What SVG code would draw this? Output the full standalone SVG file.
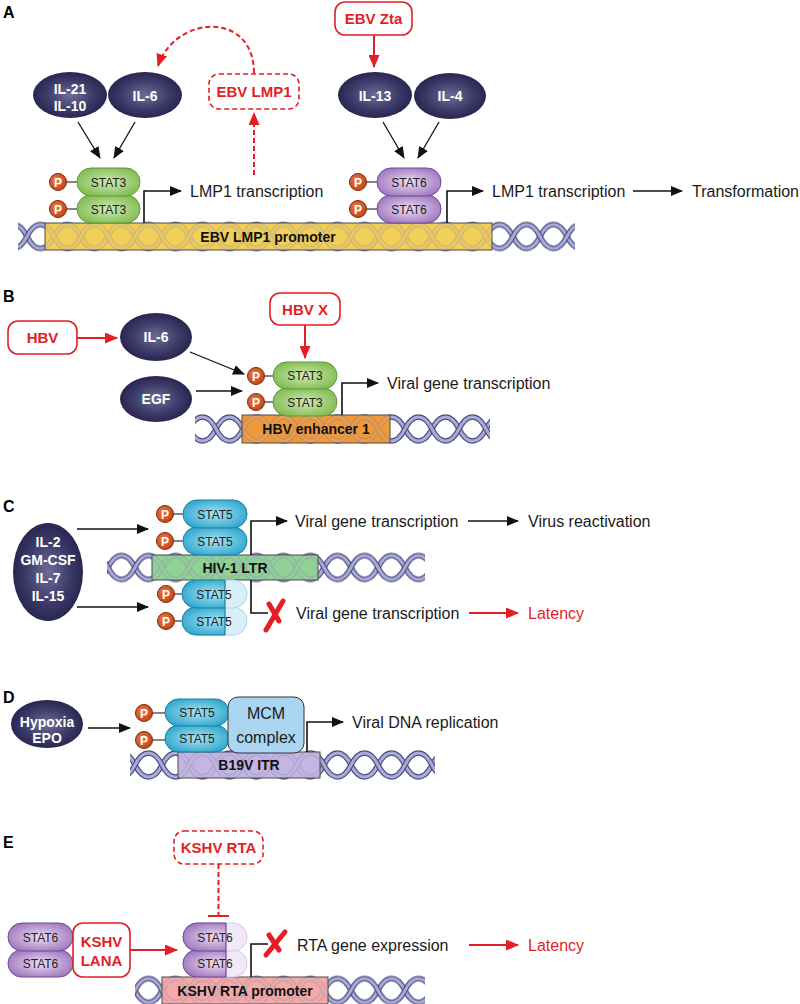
<svg xmlns="http://www.w3.org/2000/svg" width="800" height="1004" viewBox="0 0 800 1004">
<style>
text{font-family:"Liberation Sans",Arial,sans-serif}
.lbl{font-size:16px;fill:#1a1a1a}
.redt{font-size:16px;fill:#e31e24}
.wt{fill:#fff;font-weight:bold;font-size:14px;text-anchor:middle}
.st{font-size:12px;text-anchor:middle;fill:#222}
.rb{font-weight:bold;font-size:15px;fill:#e31e24;text-anchor:middle}
.bt{font-weight:bold;font-size:14px;text-anchor:middle;fill:#111}
.pl{font-weight:bold;font-size:16px;fill:#000}
.pt{font-weight:bold;font-size:12px;fill:#fff;text-anchor:middle}
.bk{fill:none;stroke:#111;stroke-width:1.3}
.el{fill:none;stroke:#111;stroke-width:1.6}
.rd{fill:none;stroke:#e31e24;stroke-width:2}
.rdd{fill:none;stroke:#e31e24;stroke-width:2;stroke-dasharray:5,3}
.rbox{fill:#fff;stroke:#e31e24;stroke-width:1.6}
.rboxd{fill:#fff;stroke:#e31e24;stroke-width:1.6;stroke-dasharray:5,3}
.nav{fill:url(#gNav)}
.s3{fill:url(#gS3);stroke:#5f9b3a;stroke-width:1}
.s6{fill:url(#gS6);stroke:#6f4a94;stroke-width:1}
.s5{fill:url(#gS5);stroke:#1c7fa3;stroke-width:1}
.s5f{fill:#d8eff8;stroke:#a9d6e8;stroke-width:1}
.s6f{fill:#f1eaf6;stroke:#d6c6e2;stroke-width:1}
.pc{fill:url(#gP);stroke:#7d2b0d;stroke-width:1}
.pln{stroke:#333;stroke-width:1.2}
.bar{stroke:#4a4a4a;stroke-width:1}
.hx-o{fill:none;stroke:#4d4d82;stroke-width:5.5}
.hx-i{fill:none;stroke:#aaaad8;stroke-width:3}
.xm{fill:none;stroke:#e31e24;stroke-width:5;stroke-linecap:round}
</style>
<defs>
<radialGradient id="gNav" cx="0.5" cy="0.5" r="0.55">
<stop offset="0" stop-color="#6e6c96"/><stop offset="0.6" stop-color="#3b3967"/><stop offset="1" stop-color="#24224a"/>
</radialGradient>
<radialGradient id="gS3" cx="0.5" cy="0.5" r="0.6">
<stop offset="0" stop-color="#cfe9b2"/><stop offset="1" stop-color="#7db84c"/>
</radialGradient>
<radialGradient id="gS6" cx="0.5" cy="0.5" r="0.6">
<stop offset="0" stop-color="#ecdff4"/><stop offset="1" stop-color="#9a70bb"/>
</radialGradient>
<radialGradient id="gS5" cx="0.5" cy="0.5" r="0.6">
<stop offset="0" stop-color="#a8e4f4"/><stop offset="1" stop-color="#27a3cb"/>
</radialGradient>
<radialGradient id="gP" cx="0.4" cy="0.4" r="0.6">
<stop offset="0" stop-color="#ef7a3c"/><stop offset="1" stop-color="#c4461a"/>
</radialGradient>
<pattern id="helix" patternUnits="userSpaceOnUse" width="54" height="30">
<path class="hx-o" d="M-27,15 C-19,31 -8,31 0,15 C8,-1 19,-1 27,15 S46,31 54,15 S73,-1 81,15"/>
<path class="hx-i" d="M-27,15 C-19,31 -8,31 0,15 C8,-1 19,-1 27,15 S46,31 54,15 S73,-1 81,15"/>
<path class="hx-o" d="M-27,15 C-19,-1 -8,-1 0,15 C8,31 19,31 27,15 S46,-1 54,15 S73,31 81,15"/>
<path class="hx-i" d="M-27,15 C-19,-1 -8,-1 0,15 C8,31 19,31 27,15 S46,-1 54,15 S73,31 81,15"/>
</pattern>
<marker id="ab" markerUnits="userSpaceOnUse" markerWidth="12" markerHeight="10" refX="11" refY="5" orient="auto">
<path d="M0,0 L12,5 L0,10 z" fill="#111"/>
</marker>
<marker id="ar" markerUnits="userSpaceOnUse" markerWidth="13" markerHeight="11" refX="12" refY="5.5" orient="auto">
<path d="M0,0 L13,5.5 L0,11 z" fill="#e31e24"/>
</marker>
<clipPath id="cC"><rect x="100" y="570" width="125" height="80"/></clipPath>
<clipPath id="cE"><rect x="150" y="915" width="76" height="70"/></clipPath>
</defs>
<rect width="800" height="1004" fill="#fff"/>

<!-- panel letters -->
<text class="pl" x="3" y="18">A</text>
<text class="pl" x="3" y="302">B</text>
<text class="pl" x="3" y="512">C</text>
<text class="pl" x="3" y="703">D</text>
<text class="pl" x="3" y="848">E</text>

<!-- DNA helices and bars -->
<g id="dnaA">
<g transform="translate(0,221.5)"><rect x="18" y="0" width="557" height="30" fill="url(#helix)"/></g>
<rect class="bar" x="45" y="223" width="447" height="27" fill="#f1cf58"/>
<g transform="translate(0,221.5)" opacity="0.18"><rect x="46" y="1" width="445" height="28" fill="url(#helix)"/></g>
<text class="bt" x="268" y="241.5">EBV LMP1 promoter</text>
</g>
<g id="dnaB">
<g transform="translate(0,414)"><rect x="195" y="0" width="295" height="30" fill="url(#helix)"/></g>
<rect class="bar" x="242" y="415" width="148" height="28" fill="#ee9a3c"/>
<g transform="translate(0,414)" opacity="0.18"><rect x="243" y="1" width="146" height="28" fill="url(#helix)"/></g>
<text class="bt" x="316" y="434">HBV enhancer 1</text>
</g>
<g id="dnaC">
<g transform="translate(0,552.5)"><rect x="107" y="0" width="318" height="30" fill="url(#helix)"/></g>
<rect class="bar" x="152" y="555" width="166" height="25" fill="#92d196"/>
<g transform="translate(0,552.5)" opacity="0.18"><rect x="153" y="3" width="164" height="24" fill="url(#helix)"/></g>
<text class="bt" x="235" y="573">HIV-1 LTR</text>
</g>
<g id="dnaD">
<g transform="translate(0,750)"><rect x="130" y="0" width="305" height="30" fill="url(#helix)"/></g>
<rect class="bar" x="178" y="752" width="142" height="26" fill="#c4b6e2"/>
<g transform="translate(0,750)" opacity="0.18"><rect x="179" y="3" width="140" height="24" fill="url(#helix)"/></g>
<text class="bt" x="249" y="770">B19V ITR</text>
</g>
<g id="dnaE">
<g transform="translate(0,975.5)"><rect x="135" y="0" width="290" height="30" fill="url(#helix)"/></g>
<rect class="bar" x="162" y="977" width="166" height="27" fill="#f3aaa8"/>
<g transform="translate(0,975.5)" opacity="0.18"><rect x="163" y="2" width="164" height="28" fill="url(#helix)"/></g>
<text class="bt" x="245" y="996">KSHV RTA promoter</text>
</g>

<!-- connectors -->
<g id="connectors">
<!-- A -->
<line class="rd" x1="374" y1="35" x2="374" y2="67" marker-end="url(#ar)"/>
<path class="rdd" d="M254,73 C254,10 175,15 158,66" marker-end="url(#ar)"/>
<line class="rdd" x1="254" y1="175" x2="254" y2="113" marker-end="url(#ar)"/>
<line class="bk" x1="78" y1="122" x2="100" y2="158" marker-end="url(#ab)"/>
<line class="bk" x1="135" y1="122" x2="114" y2="158" marker-end="url(#ab)"/>
<line class="bk" x1="383" y1="122" x2="404" y2="158" marker-end="url(#ab)"/>
<line class="bk" x1="439" y1="122" x2="418" y2="158" marker-end="url(#ab)"/>
<path class="el" d="M144,223 V191 H181" marker-end="url(#ab)"/>
<path class="el" d="M447,223 V191 H483" marker-end="url(#ab)"/>
<line class="el" x1="633" y1="191" x2="682" y2="191" marker-end="url(#ab)"/>
<!-- B -->
<line class="rd" x1="77" y1="338" x2="117" y2="338" marker-end="url(#ar)"/>
<line class="rd" x1="305" y1="325" x2="305" y2="358" marker-end="url(#ar)"/>
<line class="bk" x1="190" y1="352" x2="244" y2="374" marker-end="url(#ab)"/>
<line class="bk" x1="196" y1="391" x2="242" y2="391" marker-end="url(#ab)"/>
<path class="el" d="M342,415 V383 H378" marker-end="url(#ab)"/>
<!-- C -->
<line class="bk" x1="77" y1="529" x2="148" y2="529" marker-end="url(#ab)"/>
<line class="bk" x1="77" y1="607" x2="148" y2="607" marker-end="url(#ab)"/>
<path class="el" d="M251,555 V521 H287" marker-end="url(#ab)"/>
<line class="el" x1="468" y1="521" x2="518" y2="521" marker-end="url(#ab)"/>
<path class="el" d="M251,580 V613 H268"/>
<line class="rd" x1="469" y1="613" x2="518" y2="613" marker-end="url(#ar)"/>
<!-- D -->
<line class="bk" x1="88" y1="728" x2="130" y2="728" marker-end="url(#ab)"/>
<path class="el" d="M307,752 V722 H343" marker-end="url(#ab)"/>
<!-- E -->
<line class="rdd" x1="218.5" y1="864" x2="218.5" y2="916"/>
<line class="rd" x1="208" y1="916" x2="229" y2="916"/>
<line class="rd" x1="130" y1="950" x2="177" y2="950" marker-end="url(#ar)"/>
<path class="el" d="M251,977 V944 H268"/>
<line class="rd" x1="469" y1="945" x2="518" y2="945" marker-end="url(#ar)"/>
</g>

<!-- Panel A nodes -->
<g id="ebvZta"><rect class="rbox" x="335" y="2" width="77" height="33" rx="10"/><text class="rb" x="373.5" y="24">EBV Zta</text></g>
<g id="il21il10"><ellipse class="nav" cx="70" cy="95" rx="37" ry="23"/><text class="wt" x="70" y="94">IL-21</text><text class="wt" x="70" y="111">IL-10</text></g>
<g id="il6A"><ellipse class="nav" cx="145" cy="95" rx="37" ry="23"/><text class="wt" x="145" y="101">IL-6</text></g>
<g id="ebvLmp1"><rect class="rboxd" x="209" y="74" width="90" height="35" rx="10"/><text class="rb" x="254" y="97">EBV LMP1</text></g>
<g id="il13"><ellipse class="nav" cx="375" cy="95" rx="37" ry="23"/><text class="wt" x="375" y="101">IL-13</text></g>
<g id="il4"><ellipse class="nav" cx="450" cy="96" rx="36" ry="23"/><text class="wt" x="450" y="101">IL-4</text></g>
<g id="stat3A">
<line class="pln" x1="66" y1="182" x2="77" y2="182"/><line class="pln" x1="66" y1="209" x2="77" y2="209"/>
<circle class="pc" cx="58" cy="182" r="8.5"/><text class="pt" x="58" y="186.5">P</text>
<circle class="pc" cx="58" cy="209" r="8.5"/><text class="pt" x="58" y="213.5">P</text>
<rect class="s3" x="77" y="195" width="63" height="28" rx="14"/>
<rect class="s3" x="77" y="168" width="63" height="28" rx="14"/>
<text class="st" x="108.5" y="186.5">STAT3</text><text class="st" x="108.5" y="213.5">STAT3</text>
</g>
<g id="stat6A">
<line class="pln" x1="366" y1="182" x2="377" y2="182"/><line class="pln" x1="366" y1="209" x2="377" y2="209"/>
<circle class="pc" cx="358" cy="182" r="8.5"/><text class="pt" x="358" y="186.5">P</text>
<circle class="pc" cx="358" cy="209" r="8.5"/><text class="pt" x="358" y="213.5">P</text>
<rect class="s6" x="377" y="195" width="64" height="28" rx="14"/>
<rect class="s6" x="377" y="168" width="64" height="28" rx="14"/>
<text class="st" x="409" y="186.5">STAT6</text><text class="st" x="409" y="213.5">STAT6</text>
</g>
<text class="lbl" x="190" y="197">LMP1 transcription</text>
<text class="lbl" x="492" y="197">LMP1 transcription</text>
<text class="lbl" x="692" y="197">Transformation</text>

<!-- Panel B nodes -->
<g id="hbv"><rect class="rbox" x="8" y="321" width="69" height="33" rx="10"/><text class="rb" x="42.5" y="343">HBV</text></g>
<g id="il6B"><ellipse class="nav" cx="156" cy="337" rx="36" ry="24"/><text class="wt" x="156" y="342">IL-6</text></g>
<g id="egf"><ellipse class="nav" cx="156" cy="399" rx="36" ry="23"/><text class="wt" x="156" y="404">EGF</text></g>
<g id="hbvx"><rect class="rbox" x="270" y="293" width="70" height="32" rx="10"/><text class="rb" x="305" y="314.5">HBV X</text></g>
<g id="stat3B">
<line class="pln" x1="264" y1="376" x2="273" y2="376"/><line class="pln" x1="264" y1="402" x2="273" y2="402"/>
<circle class="pc" cx="256" cy="376" r="8.5"/><text class="pt" x="256" y="380.5">P</text>
<circle class="pc" cx="256" cy="402" r="8.5"/><text class="pt" x="256" y="406.5">P</text>
<rect class="s3" x="273" y="388" width="64" height="28" rx="14"/>
<rect class="s3" x="273" y="362" width="64" height="27" rx="13.5"/>
<text class="st" x="305" y="380">STAT3</text><text class="st" x="305" y="406.5">STAT3</text>
</g>
<text class="lbl" x="387" y="389">Viral gene transcription</text>

<!-- Panel C nodes -->
<g id="cytoC"><ellipse class="nav" cx="48" cy="572" rx="35" ry="49"/>
<text class="wt" x="48" y="547">IL-2</text><text class="wt" x="48" y="565">GM-CSF</text><text class="wt" x="48" y="583">IL-7</text><text class="wt" x="48" y="601">IL-15</text></g>
<g id="stat5Ctop">
<line class="pln" x1="173" y1="514" x2="183" y2="514"/><line class="pln" x1="173" y1="541" x2="183" y2="541"/>
<circle class="pc" cx="165" cy="514" r="8.5"/><text class="pt" x="165" y="518.5">P</text>
<circle class="pc" cx="165" cy="541" r="8.5"/><text class="pt" x="165" y="545.5">P</text>
<rect class="s5" x="183" y="527" width="64" height="28" rx="14"/>
<rect class="s5" x="183" y="500" width="64" height="28" rx="14"/>
<text class="st" x="215" y="518.5">STAT5</text><text class="st" x="215" y="545.5">STAT5</text>
</g>
<g id="stat5Cbot">
<line class="pln" x1="174" y1="594" x2="182" y2="594"/><line class="pln" x1="174" y1="621" x2="182" y2="621"/>
<circle class="pc" cx="166" cy="594" r="8.5"/><text class="pt" x="166" y="598.5">P</text>
<circle class="pc" cx="166" cy="621" r="8.5"/><text class="pt" x="166" y="625.5">P</text>
<rect class="s5f" x="182" y="607" width="65" height="28" rx="14"/>
<rect class="s5f" x="182" y="580" width="65" height="28" rx="14"/>
<g clip-path="url(#cC)">
<rect class="s5" x="182" y="607" width="65" height="28" rx="14"/>
<rect class="s5" x="182" y="580" width="65" height="28" rx="14"/>
</g>
<line x1="225" y1="580" x2="225" y2="635" stroke="#1c7fa3" stroke-width="1.2"/>
<text class="st" x="214" y="598.5">STAT5</text><text class="st" x="214" y="625.5">STAT5</text>
</g>
<g id="xC"><path class="xm" d="M266,630 L283,601"/><path class="xm" d="M269,604 L279,621"/></g>
<text class="lbl" x="295" y="527">Viral gene transcription</text>
<text class="lbl" x="528" y="527">Virus reactivation</text>
<text class="lbl" x="296" y="619">Viral gene transcription</text>
<text class="redt" x="528" y="619">Latency</text>

<!-- Panel D nodes -->
<g id="hypoxia"><ellipse class="nav" cx="47" cy="724" rx="36" ry="24"/><text class="wt" x="47" y="727">Hypoxia</text><text class="wt" x="47" y="743">EPO</text></g>
<g id="stat5D">
<line class="pln" x1="152" y1="713" x2="165" y2="713"/><line class="pln" x1="152" y1="740" x2="165" y2="740"/>
<circle class="pc" cx="144" cy="713" r="8.5"/><text class="pt" x="144" y="717.5">P</text>
<circle class="pc" cx="144" cy="740" r="8.5"/><text class="pt" x="144" y="744.5">P</text>
<rect class="s5" x="165" y="725" width="64" height="27" rx="13.5"/>
<rect class="s5" x="165" y="699" width="64" height="27" rx="13.5"/>
<text class="st" x="197" y="716.5">STAT5</text><text class="st" x="197" y="742.5">STAT5</text>
</g>
<g id="mcm"><rect x="228" y="697" width="76" height="56" rx="10" fill="#aad6f1" stroke="#333" stroke-width="1"/>
<text class="lbl" x="266" y="719" text-anchor="middle">MCM</text><text class="lbl" x="266" y="743" text-anchor="middle">complex</text></g>
<text class="lbl" x="352" y="728">Viral DNA replication</text>

<!-- Panel E nodes -->
<g id="kshvRta"><rect class="rboxd" x="174" y="831" width="89" height="33" rx="10"/><text class="rb" x="218.5" y="853">KSHV RTA</text></g>
<g id="stat6Eleft">
<rect class="s6" x="8" y="950" width="65" height="27" rx="13.5"/>
<rect class="s6" x="8" y="923" width="65" height="28" rx="14"/>
<text class="st" x="40.5" y="941.5">STAT6</text><text class="st" x="40.5" y="968">STAT6</text>
</g>
<g id="kshvLana"><rect class="rbox" x="73" y="923" width="57" height="54" rx="10"/><text class="rb" x="101.5" y="947">KSHV</text><text class="rb" x="101.5" y="966">LANA</text></g>
<g id="stat6Emid">
<rect class="s6f" x="183" y="950" width="64" height="27" rx="13.5"/>
<rect class="s6f" x="183" y="923" width="64" height="28" rx="14"/>
<g clip-path="url(#cE)">
<rect class="s6" x="183" y="950" width="64" height="27" rx="13.5"/>
<rect class="s6" x="183" y="923" width="64" height="28" rx="14"/>
</g>
<line x1="226" y1="923" x2="226" y2="977" stroke="#6f4a94" stroke-width="1.2"/>
<text class="st" x="215" y="941.5">STAT6</text><text class="st" x="215" y="968">STAT6</text>
</g>
<g id="xE"><path class="xm" d="M266,955 L285,932"/><path class="xm" d="M269,935 L279,950"/></g>
<text class="lbl" x="297" y="951">RTA gene expression</text>
<text class="redt" x="528" y="951">Latency</text>
</svg>
